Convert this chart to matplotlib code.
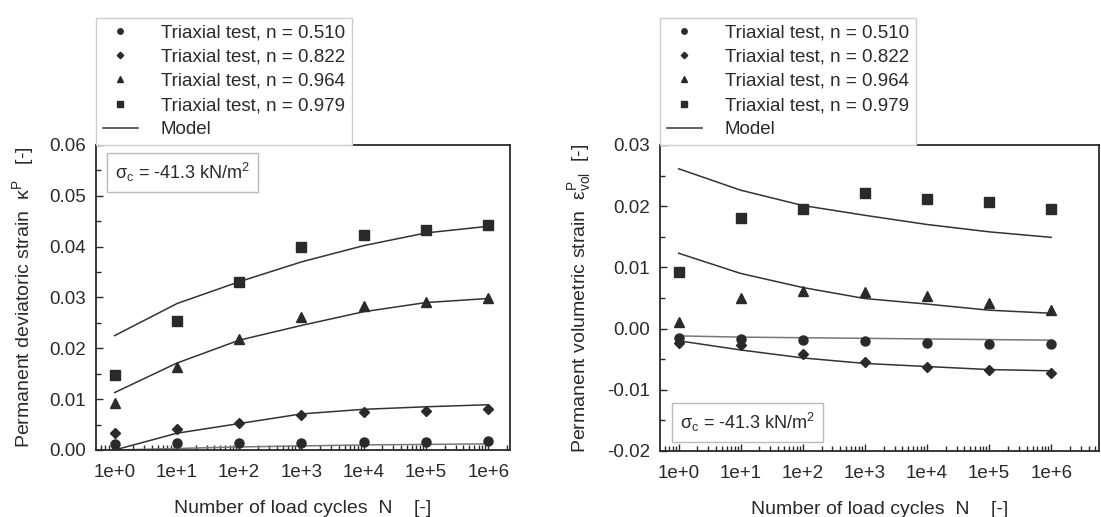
import matplotlib.pyplot as plt
from matplotlib.ticker import FixedLocator, LogLocator, NullFormatter, MultipleLocator

plt.rcParams['font.family'] = ['Liberation Sans', 'DejaVu Sans']
plt.rcParams['mathtext.fontset'] = 'custom'
plt.rcParams['mathtext.rm'] = 'Liberation Sans'
plt.rcParams['mathtext.it'] = 'Liberation Sans:italic'

# load cycles
N = [1e0, 1e1, 1e2, 1e3, 1e4, 1e5, 1e6]
tick_labels = ['1e+0', '1e+1', '1e+2', '1e+3', '1e+4', '1e+5', '1e+6']
labels = ['Triaxial test, n = 0.510', 'Triaxial test, n = 0.822',
          'Triaxial test, n = 0.964', 'Triaxial test, n = 0.979']

# permanent deviatoric strain, test data
dev_510 = [0.0012, 0.0013, 0.0013, 0.0014, 0.0016, 0.0016, 0.0018]
dev_822 = [0.0033, 0.0041, 0.0054, 0.0068, 0.0074, 0.0077, 0.0081]
dev_964 = [0.0092, 0.0163, 0.0218, 0.0261, 0.0284, 0.0291, 0.0298]
dev_979 = [0.0148, 0.0253, 0.0331, 0.0399, 0.0422, 0.0433, 0.0442]
# deviatoric strain, model
dev_mod_510 = [0.0000, 0.0003, 0.0006, 0.0008, 0.0010, 0.0011, 0.0012]
dev_mod_822 = [0.0000, 0.0033, 0.0052, 0.0071, 0.0080, 0.0085, 0.0089]
dev_mod_964 = [0.0113, 0.0171, 0.0216, 0.0245, 0.0272, 0.0290, 0.0298]
dev_mod_979 = [0.0225, 0.0288, 0.0331, 0.0370, 0.0402, 0.0427, 0.0440]

# permanent volumetric strain, test data
vol_510 = [-0.0016, -0.0017, -0.0019, -0.0020, -0.0023, -0.0026, -0.0026]
vol_822 = [-0.0023, -0.0027, -0.0042, -0.0055, -0.0063, -0.0068, -0.0072]
vol_964 = [0.0011, 0.0050, 0.0061, 0.0059, 0.0053, 0.0042, 0.0031]
vol_979 = [0.0093, 0.0180, 0.0196, 0.0221, 0.0212, 0.0207, 0.0196]
# volumetric strain, model
vol_mod_510 = [-0.0012, -0.0014, -0.0015, -0.0016, -0.0017, -0.0018, -0.0019]
vol_mod_822 = [-0.0020, -0.0035, -0.0048, -0.0057, -0.0062, -0.0067, -0.0069]
vol_mod_964 = [0.0123, 0.0090, 0.0067, 0.0049, 0.0040, 0.0030, 0.0025]
vol_mod_979 = [0.0261, 0.0226, 0.0201, 0.0185, 0.0170, 0.0158, 0.0149]

ink = '#2a2a2a'
markers = [('o', 6.5), ('D', 5.5), ('^', 6.5), ('s', 7)]


def panel(ax, tests, models, ylim, ystep, ylabel, box_pos):
    for (m, ms), vals, lab in zip(markers, tests, labels):
        ax.plot(N, vals, linestyle='none', marker=m, ms=ms, color=ink,
                label=lab, zorder=3)
    for i, vals in enumerate(models):
        ax.plot(N, vals, color='#777777' if i == 0 else '#333333', lw=1.1,
                label='Model' if i == 1 else None, zorder=2)

    ax.set_xscale('log')
    ax.set_ylim(*ylim)
    ax.xaxis.set_major_locator(FixedLocator(N))
    ax.set_xticklabels(tick_labels)
    ax.xaxis.set_minor_locator(LogLocator(base=10, subs=range(2, 10), numticks=20))
    ax.xaxis.set_minor_formatter(NullFormatter())
    ax.yaxis.set_major_locator(MultipleLocator(ystep))
    ax.yaxis.set_minor_locator(MultipleLocator(ystep / 2))
    ax.yaxis.set_major_formatter(plt.FuncFormatter(lambda v, p: f'{v:.2f}'.replace('-0.00', '0.00')))
    ax.tick_params(which='both', direction='in', top=False, right=False,
                   labelsize=13.5, colors=ink)
    ax.tick_params(axis='x', pad=10)
    ax.tick_params(axis='y', pad=7)
    ax.tick_params(which='major', length=5, width=1)
    ax.tick_params(which='minor', length=3.5, width=1)
    for s in ax.spines.values():
        s.set_color(ink)
        s.set_linewidth(1.3)
    ax.set_xlabel('Number of load cycles  N    [-]', fontsize=14, color=ink, labelpad=14)
    ax.set_ylabel(ylabel, fontsize=14, color=ink, labelpad=10)

    handles, labs = ax.get_legend_handles_labels()
    leg = ax.legend(handles, labs,
                    loc='lower left', bbox_to_anchor=(0, 1), borderaxespad=0,
                    fontsize=13.5, markerscale=0.6, fancybox=False,
                    edgecolor='#cccccc', framealpha=1, handlelength=1.9,
                    handletextpad=1.2, labelspacing=0.38, borderpad=0.35,
                    labelcolor=ink)
    leg.get_frame().set_linewidth(1.0)

    ax.text(box_pos[0], box_pos[1], r'σ$_{\mathrm{c}}$ = -41.3 kN/m$^{\mathrm{2}}$',
            transform=ax.transAxes, fontsize=13, color=ink, ha='left', va='center',
            bbox=dict(boxstyle='square,pad=0.45', fc='white', ec='#bbbbbb', lw=1.0))


fig = plt.figure(figsize=(11.01, 5.17), dpi=100)
ax1 = fig.add_axes([0.0872, 0.1296, 0.376, 0.590])
ax2 = fig.add_axes([0.5995, 0.1277, 0.3987, 0.592])

panel(ax1, [dev_510, dev_822, dev_964, dev_979],
      [dev_mod_510, dev_mod_822, dev_mod_964, dev_mod_979],
      (0, 0.06), 0.01, r'Permanent deviatoric strain  κ$^{\mathrm{P}}$   [-]',
      (0.045, 0.91))
ax1.set_xlim(10 ** -0.3, 10 ** 6.35)

panel(ax2, [vol_510, vol_822, vol_964, vol_979],
      [vol_mod_510, vol_mod_822, vol_mod_964, vol_mod_979],
      (-0.02, 0.03), 0.01, r'Permanent volumetric strain  ε$^{\mathrm{P}}_{\mathrm{vol}}$  [-]',
      (0.045, 0.093))
ax2.set_xlim(10 ** -0.3, 10 ** 6.77)

fig.savefig('out.png', dpi=100)
